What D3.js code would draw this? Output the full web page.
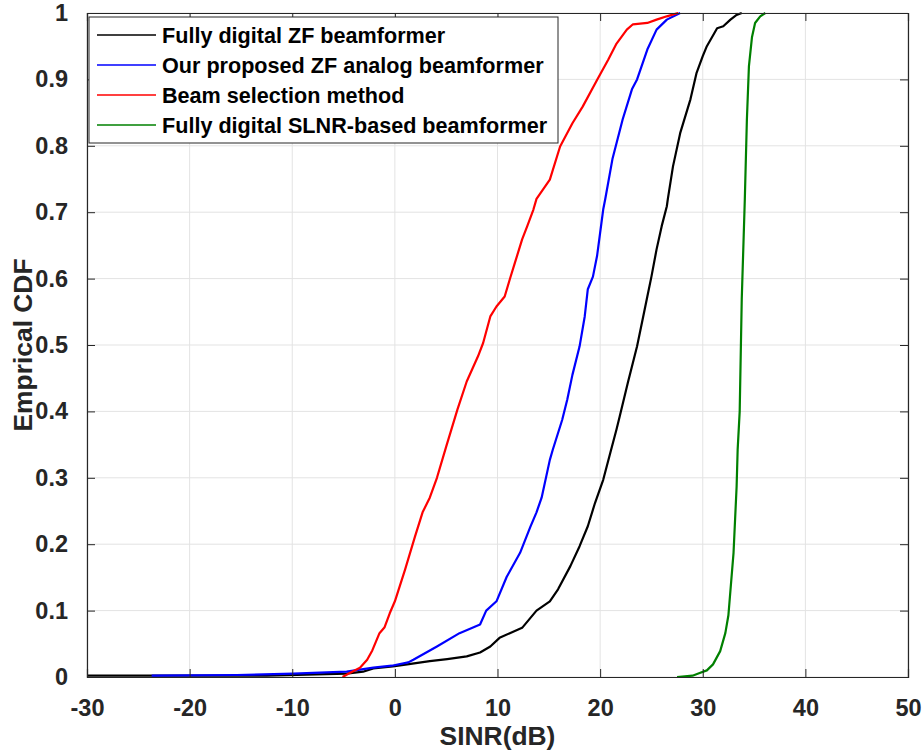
<!DOCTYPE html>
<html><head><meta charset="utf-8">
<script src="https://cdn.jsdelivr.net/npm/d3@7"></script>
<style>
html,body{margin:0;padding:0;background:#fff;}
text{font-family:"Liberation Sans",Arial,sans-serif;font-weight:bold;}
</style></head>
<body>
<svg id="chart" width="923" height="755"></svg>
<script>
const xTicks = [-30,-20,-10,0,10,20,30,40,50];
const xTickLabels = ["-30","-20","-10","0","10","20","30","40","50"];
const yTicks = [0,0.1,0.2,0.3,0.4,0.5,0.6,0.7,0.8,0.9,1];
const yTickLabels = ["0","0.1","0.2","0.3","0.4","0.5","0.6","0.7","0.8","0.9","1"];
const seriesNames = ["Fully digital ZF beamformer","Our proposed ZF analog beamformer","Beam selection method","Fully digital SLNR-based beamformer"];
const seriesColors = ["#000000","#0000ff","#ff0000","#008000"];

const fullyDigitalZF = [[-30,0.002],[-20,0.002],[-12.5,0.002],[-4.7,0.005],[-3.1,0.008],[-2.1,0.013],[-0.2,0.016],[1.2,0.019],[3.4,0.024],[5.1,0.027],[7.0,0.031],[8.3,0.037],[9.3,0.046],[10.2,0.059],[11.2,0.066],[12.4,0.074],[13.8,0.10],[15.1,0.114],[15.9,0.132],[17.1,0.167],[18.0,0.197],[18.8,0.227],[19.5,0.262],[20.3,0.297],[21.0,0.338],[21.6,0.373],[21.9,0.392],[22.7,0.443],[23.6,0.498],[24.2,0.543],[24.6,0.573],[25.0,0.603],[25.5,0.644],[26.0,0.679],[26.5,0.709],[26.6,0.72],[27.1,0.769],[27.8,0.819],[28.8,0.87],[29.4,0.91],[30.0,0.935],[30.4,0.95],[31.4,0.977],[32.0,0.98],[32.7,0.99],[33.3,0.997],[33.8,1.0]];
const proposedZFAnalog = [[-23.7,0.002],[-15.4,0.003],[-9.9,0.005],[-4.7,0.008],[-2.1,0.014],[-0.3,0.017],[1.3,0.022],[1.8,0.026],[4.1,0.046],[6.3,0.066],[8.3,0.079],[8.9,0.10],[9.9,0.114],[10.9,0.151],[12.2,0.187],[13.2,0.226],[13.8,0.248],[14.3,0.27],[15.1,0.327],[15.4,0.343],[16.3,0.387],[16.8,0.418],[17.3,0.455],[18.0,0.498],[18.5,0.543],[18.8,0.584],[19.3,0.603],[19.7,0.634],[20.0,0.669],[20.3,0.704],[20.5,0.72],[21.2,0.78],[22.2,0.84],[23.1,0.885],[23.6,0.9],[24.6,0.945],[25.5,0.975],[26.5,0.99],[27.8,1.0]];
const beamSelection = [[-5.1,0],[-4.4,0.006],[-3.4,0.014],[-2.7,0.026],[-2.2,0.04],[-1.5,0.066],[-1,0.075],[-0.5,0.096],[0,0.114],[1,0.162],[1.95,0.211],[2.7,0.248],[3.4,0.27],[4.1,0.30],[5.0,0.347],[6.1,0.403],[7.0,0.445],[8.1,0.483],[8.6,0.503],[9.3,0.543],[9.9,0.558],[10.7,0.573],[11.2,0.599],[11.7,0.624],[12.4,0.659],[12.9,0.679],[13.5,0.704],[13.8,0.72],[15.1,0.749],[16.1,0.799],[17.3,0.834],[18.3,0.859],[19.7,0.899],[20.8,0.93],[21.6,0.954],[22.6,0.975],[23.2,0.983],[24.6,0.985],[25.5,0.99],[26.5,0.995],[27.6,1.0]];
const fullyDigitalSLNR = [[27.5,0],[29.0,0.002],[29.7,0.006],[30.4,0.01],[31.0,0.019],[31.7,0.039],[32.2,0.066],[32.5,0.093],[33.0,0.187],[33.3,0.287],[33.4,0.342],[33.6,0.40],[33.8,0.569],[34.1,0.72],[34.3,0.839],[34.5,0.92],[34.8,0.964],[35.1,0.985],[35.6,0.995],[36.1,1.0]];
const allSeries = [fullyDigitalZF, proposedZFAnalog, beamSelection, fullyDigitalSLNR];

const margin = {left:87, top:13, width:821, height:664};
const svg = d3.select("#chart");
const x = d3.scaleLinear().domain([-30,50]).range([margin.left, margin.left+margin.width]);
const y = d3.scaleLinear().domain([0,1]).range([margin.top+margin.height, margin.top]);
const axisColor = "#262626";

// grid
const grid = svg.append("g");
grid.selectAll("line.gx").data(xTicks).enter().append("line")
  .attr("x1",d=>x(d)).attr("x2",d=>x(d)).attr("y1",y(0)).attr("y2",y(1))
  .attr("stroke","#e3e3e3").attr("stroke-width",1);
grid.selectAll("line.gy").data(yTicks).enter().append("line")
  .attr("y1",d=>y(d)).attr("y2",d=>y(d)).attr("x1",x(-30)).attr("x2",x(50))
  .attr("stroke","#e3e3e3").attr("stroke-width",1);

// clip
svg.append("clipPath").attr("id","clip").append("rect")
  .attr("x",margin.left).attr("y",margin.top-1).attr("width",margin.width).attr("height",margin.height+2);

// lines
const line = d3.line().x(d=>x(d[0])).y(d=>y(d[1]));
svg.append("g").attr("clip-path","url(#clip)").selectAll("path").data(allSeries).enter().append("path")
  .attr("d",line).attr("fill","none").attr("stroke",(d,i)=>seriesColors[i]).attr("stroke-width",2.2)
  .attr("stroke-linejoin","round");

// axes (box with inner ticks on all sides)
const tl = 8;
const xb = d3.axisBottom(x).tickValues(xTicks).tickSize(-tl).tickFormat((d,i)=>xTickLabels[i]).tickPadding(22);
const xt = d3.axisTop(x).tickValues(xTicks).tickSize(-tl).tickFormat("");
const yl = d3.axisLeft(y).tickValues(yTicks).tickSize(-tl).tickFormat((d,i)=>yTickLabels[i]).tickPadding(19);
const yr = d3.axisRight(y).tickValues(yTicks).tickSize(-tl).tickFormat("");
function style(g){
  g.select(".domain").attr("stroke",axisColor).attr("stroke-width",1.2);
  g.selectAll(".tick line").attr("stroke",axisColor).attr("stroke-width",1);
  g.selectAll(".tick text").attr("fill",axisColor).style("font-size","23.5px").style("font-family","'Liberation Sans',Arial,sans-serif").style("font-weight","bold");
}
svg.append("g").attr("transform",`translate(0,${y(0)})`).call(xb).call(style);
svg.append("g").attr("transform",`translate(0,${y(1)})`).call(xt).call(style);
svg.append("g").attr("transform",`translate(${x(-30)},0)`).call(yl).call(style);
svg.append("g").attr("transform",`translate(${x(50)},0)`).call(yr).call(style);

// axis labels
svg.append("text").attr("x",x(10)).attr("y",745).attr("text-anchor","middle")
  .attr("fill",axisColor).style("font-size","26.4px").text("SINR(dB)");
svg.append("text").attr("transform",`translate(32,${y(0.5)}) rotate(-90)`).attr("text-anchor","middle")
  .attr("fill",axisColor).style("font-size","26.4px").text("Emprical CDF");

// legend
const lg = svg.append("g");
lg.append("rect").attr("x",89).attr("y",17).attr("width",469).attr("height",126)
  .attr("fill","#fff").attr("stroke",axisColor).attr("stroke-width",1);
const rowY = [35,65,95,125];
seriesNames.forEach((n,i)=>{
  lg.append("line").attr("x1",97).attr("x2",156).attr("y1",rowY[i]).attr("y2",rowY[i])
    .attr("stroke",seriesColors[i]).attr("stroke-width",1.5);
  lg.append("text").attr("x",162).attr("y",rowY[i]).attr("dy","0.36em")
    .attr("fill","#000").style("font-size","21.6px").text(n);
});
</script>
</body></html>
